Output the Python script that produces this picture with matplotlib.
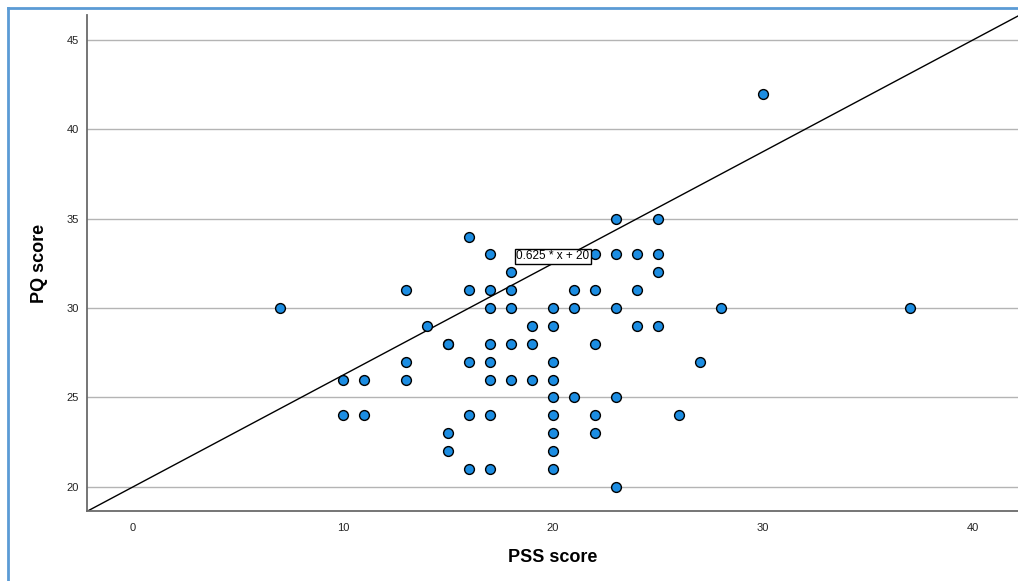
import numpy as np
import matplotlib
matplotlib.use('Agg')
from matplotlib import pyplot as plt

plt.rcParams['font.family'] = ['Liberation Sans', 'DejaVu Sans']

# PSS score vs PQ score, one entry per respondent
pss = [7, 10, 10, 11, 11, 13, 13, 13, 14, 15, 15, 15, 15,
       16, 16, 16, 16, 16, 17, 17, 17, 17, 17, 17, 17, 17,
       18, 18, 18, 18, 18, 19, 19, 19,
       20, 20, 20, 20, 20, 20, 20, 20, 20, 21, 21, 21,
       22, 22, 22, 22, 22, 23, 23, 23, 23, 23, 24, 24, 24,
       25, 25, 25, 25, 26, 27, 28, 30, 37]
pq = [30, 26, 24, 26, 24, 31, 27, 26, 29, 28, 23, 22, 28,
      34, 31, 27, 24, 21, 33, 31, 30, 28, 27, 26, 24, 21,
      32, 31, 30, 28, 26, 29, 28, 26,
      30, 29, 27, 26, 25, 24, 23, 22, 21, 31, 30, 25,
      33, 31, 28, 24, 23, 35, 33, 30, 25, 20, 33, 31, 29,
      35, 33, 32, 29, 24, 27, 30, 42, 30]

# fitted line  y = slope * x + intercept
slope = 0.625
intercept = 20
fit_label = '0.625 * x + 20'

xmin, xmax = -2.19, 42.15
ymin, ymax = 18.65, 46.4

fig = plt.figure(figsize=(10.18, 5.81), dpi=100)
ax = fig.add_axes([0.0855, 0.1205, 0.9145, 0.8537])

ax.set_xlim(xmin, xmax)
ax.set_ylim(ymin, ymax)

ax.set_yticks([20, 25, 30, 35, 40, 45])
ax.set_xticks([0, 10, 20, 30, 40])
ax.yaxis.grid(True, color='#b4b4b4', linewidth=1)
ax.set_axisbelow(True)
ax.tick_params(length=0, labelsize=8, colors='#222222')
ax.tick_params(axis='y', pad=6)
ax.tick_params(axis='x', pad=9)

for s in ['top', 'right']:
    ax.spines[s].set_visible(False)
for s in ['left', 'bottom']:
    ax.spines[s].set_color('#6a6a6a')
    ax.spines[s].set_linewidth(1.3)

xs = np.array([xmin, xmax])
ax.plot(xs, slope * xs + intercept, color='black', linewidth=1, zorder=2)

ax.scatter(pss, pq, s=50, color='#1c8de2', edgecolors='black',
           linewidths=1, zorder=3)

ax.text(20, 32.9, fit_label, ha='center', va='center', fontsize=8.5,
        zorder=4,
        bbox=dict(boxstyle='square,pad=0.15', facecolor='white',
                  edgecolor='black', linewidth=1))

ax.set_xlabel('PSS score', fontsize=13, fontweight='bold', labelpad=11)
ax.set_ylabel('PQ score', fontsize=13, fontweight='bold', labelpad=13)

# blue frame around the chart
fig.add_artist(plt.Line2D([0.008, 0.008], [0, 0.986], transform=fig.transFigure,
                          color='#5b9bd5', linewidth=2))
fig.add_artist(plt.Line2D([0.008, 1], [0.986, 0.986], transform=fig.transFigure,
                          color='#5b9bd5', linewidth=2))

fig.savefig('out.png', dpi=100)
